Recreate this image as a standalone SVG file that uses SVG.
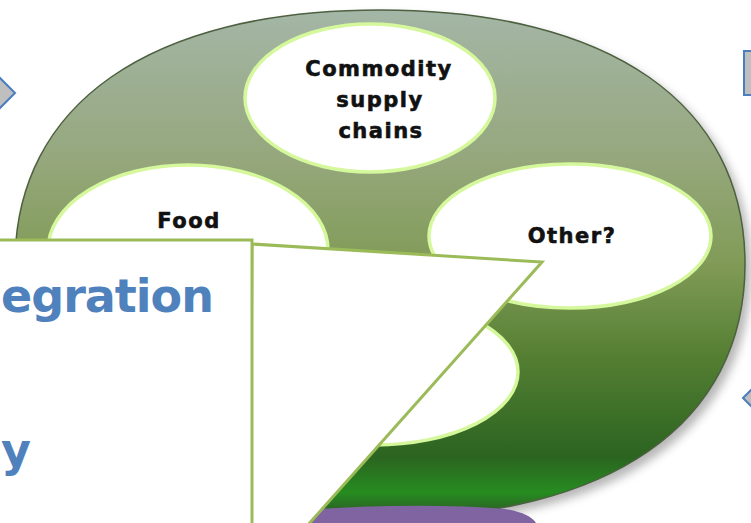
<svg xmlns="http://www.w3.org/2000/svg" width="751" height="523" viewBox="0 0 751 523">
<style>
.lbl{font-family:"DejaVu Sans",sans-serif;font-weight:bold;font-size:21px;letter-spacing:1.5px;fill:#111;stroke:#111;stroke-width:0.6;text-anchor:middle}
.big{font-family:"DejaVu Sans",sans-serif;font-weight:bold;font-size:46px;letter-spacing:-1px;fill:#4f81bd}
.inner{fill:#fff;stroke:#d6f89c;stroke-width:3.5}
.frame{fill:#fff;stroke:#9bbb59;stroke-width:3}
.nav{fill:#bfbfbf;stroke:#4a7ec0;stroke-width:2}
</style>
<defs>
<linearGradient id="disc" x1="0" y1="10" x2="0" y2="518" gradientUnits="userSpaceOnUse">
<stop offset="0" stop-color="#a4b6a6"/>
<stop offset="0.3" stop-color="#95a77b"/>
<stop offset="0.5" stop-color="#819b57"/>
<stop offset="0.68" stop-color="#557f33"/>
<stop offset="0.88" stop-color="#2b6420"/>
<stop offset="0.95" stop-color="#268c20"/>
<stop offset="1" stop-color="#2d5428"/>
</linearGradient>
<filter id="blur" x="-10%" y="-10%" width="120%" height="120%"><feGaussianBlur stdDeviation="5"/></filter>
</defs>
<path d="M751 270 C751 430 616 524 386 524 C156 524 21 430 21 270 C21 110 156 16 386 16 C616 16 751 110 751 270Z" fill="#7a7a7a" opacity="0.55" filter="url(#blur)"/>
<g id="disc-node">
<path d="M745 264 C745 424 610 518 380 518 C150 518 15 424 15 264 C15 104 150 10 380 10 C610 10 745 104 745 264Z" fill="url(#disc)" stroke="#4d6040" stroke-width="1.5"/>
</g>
<g id="node-commodity">
<ellipse class="inner" cx="370" cy="98" rx="125" ry="74"/>
<text class="lbl" x="379" y="76">Commodity</text>
<text class="lbl" x="380" y="107">supply</text>
<text class="lbl" x="381" y="138">chains</text>
</g>
<g id="node-food">
<ellipse class="inner" cx="188" cy="250" rx="140" ry="85"/>
<text class="lbl" x="189" y="228">Food</text>
</g>
<g id="node-other">
<ellipse class="inner" cx="570" cy="236" rx="141" ry="72"/>
<text class="lbl" x="572" y="243">Other?</text>
</g>
<g id="node-bottom">
<ellipse class="inner" cx="375" cy="372" rx="143" ry="73"/>
</g>
<g id="purple">
<path d="M280 523 L300 510 Q420 502 505 509 Q530 513 536 523 Z" fill="#8064a2"/>
</g>
<g id="connectors">
<polygon id="callout-triangle" class="frame" points="252,244 542,262 250,590"/>
</g>
<g id="node-box">
<rect class="frame" x="-10" y="240" width="262" height="300"/>
<text class="big" x="1" y="312">egration</text>
<text class="big" x="1" y="466">y</text>
</g>
<g id="nav-left"><polygon class="nav" points="-20,58 15,93 -20,128"/></g>
<g id="nav-top-right"><rect class="nav" x="744" y="51" width="20" height="44"/></g>
<g id="nav-right"><polygon class="nav" points="743,398 770,371 770,425"/></g>
</svg>
